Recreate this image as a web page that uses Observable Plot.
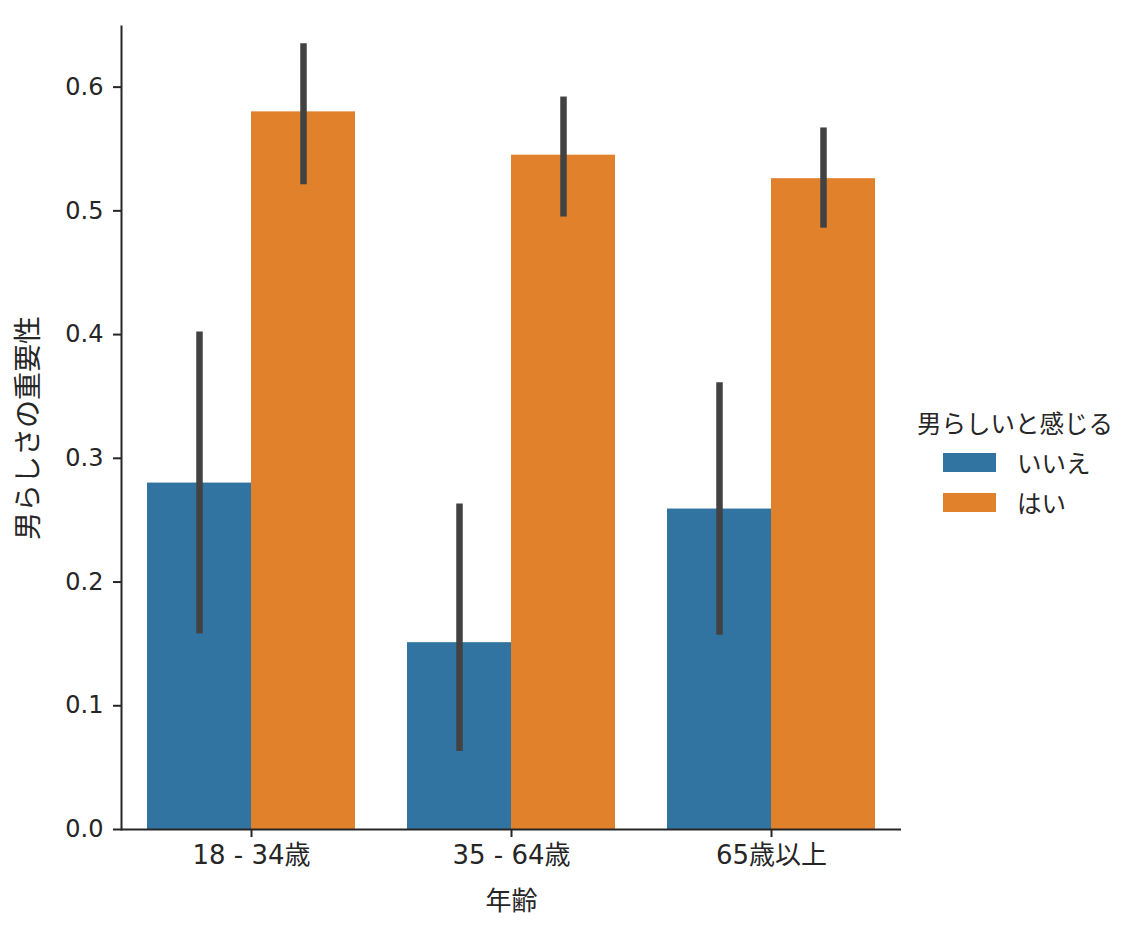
<!DOCTYPE html>
<html>
<head>
<meta charset="utf-8">
<script src="https://cdn.jsdelivr.net/npm/d3@7"></script>
<script src="https://cdn.jsdelivr.net/npm/@observablehq/plot@0.6"></script>
<style>
  html, body { margin: 0; padding: 0; background: #fff; }
  #wrap { position: relative; width: 1136px; height: 928px; font-family: "DejaVu Sans", "Noto Sans CJK JP", sans-serif; color: #262626; }
  #legend { position: absolute; left: 917px; top: 408px; }
  #legend .title { font-size: 24.5px; line-height: 34px; white-space: nowrap; }
  #legend .item { display: flex; align-items: center; height: 40px; margin-left: 26px; font-size: 24.5px; }
  #legend .sw { width: 53px; height: 19px; margin-right: 21px; }
</style>
</head>
<body>
<div id="wrap"></div>
<script>
const ages = ["18 - 34歳", "35 - 64歳", "65歳以上"];
const hues = ["いいえ", "はい"];
const colors = ["#3274a1", "#e1812c"];
const noMean = [0.280, 0.151, 0.259];
const noLow = [0.158, 0.063, 0.157];
const noHigh = [0.402, 0.263, 0.361];
const yesMean = [0.580, 0.545, 0.526];
const yesLow = [0.521, 0.495, 0.486];
const yesHigh = [0.635, 0.592, 0.567];
const yTicks = [0, 0.1, 0.2, 0.3, 0.4, 0.5, 0.6];
const yLabel = "男らしさの重要性";
const xLabel = "年齢";
const legendTitle = "男らしいと感じる";

const data = [];
ages.forEach((a, i) => {
  data.push({age: a, hue: hues[0], value: noMean[i], lo: noLow[i], hi: noHigh[i]});
  data.push({age: a, hue: hues[1], value: yesMean[i], lo: yesLow[i], hi: yesHigh[i]});
});

const ink = "#262626";
const chart = Plot.plot({
  width: 1136,
  height: 928,
  marginLeft: 120,
  marginRight: 234,
  marginTop: 26,
  marginBottom: 99,
  style: {fontFamily: '"DejaVu Sans", "Noto Sans CJK JP", sans-serif', color: ink, background: "#fff"},
  fx: {domain: ages, paddingInner: 0, paddingOuter: 0},
  x: {domain: hues, paddingInner: 0, paddingOuter: 0.25, axis: null},
  y: {domain: [0, 0.649]},
  color: {domain: hues, range: colors},
  marks: [
    Plot.barY(data, {fx: "age", x: "hue", y: "value", fill: "hue"}),
    Plot.ruleX(data, {fx: "age", x: "hue", y1: "lo", y2: "hi", stroke: "#424242", strokeWidth: 6.5}),
    Plot.ruleY([0], {stroke: ink, strokeWidth: 2}),
    Plot.frame({anchor: "left", facetAnchor: "left", stroke: ink, strokeWidth: 2}),
    Plot.axisY({ticks: yTicks, tickFormat: d3.format(".1f"), tickSize: 8, tickPadding: 10, fontSize: 24, label: null, stroke: ink, strokeWidth: 2}),
    Plot.axisY({ticks: [], tickSize: 0, label: yLabel, labelAnchor: "center", labelArrow: "none", labelOffset: 103, fontSize: 28}),
    Plot.axisFx({anchor: "bottom", tickSize: 8, tickPadding: 8, fontSize: 26, label: xLabel, labelAnchor: "center", labelArrow: "none", labelOffset: 80, stroke: ink, strokeWidth: 2})
  ]
});
const wrap = document.getElementById("wrap");
wrap.appendChild(chart);

const legend = document.createElement("div");
legend.id = "legend";
const t = document.createElement("div");
t.className = "title";
t.textContent = legendTitle;
legend.appendChild(t);
hues.forEach((h, i) => {
  const it = document.createElement("div");
  it.className = "item";
  const sw = document.createElement("div");
  sw.className = "sw";
  sw.style.background = colors[i];
  const lb = document.createElement("span");
  lb.textContent = h;
  it.appendChild(sw);
  it.appendChild(lb);
  legend.appendChild(it);
});
wrap.appendChild(legend);
</script>
</body>
</html>
